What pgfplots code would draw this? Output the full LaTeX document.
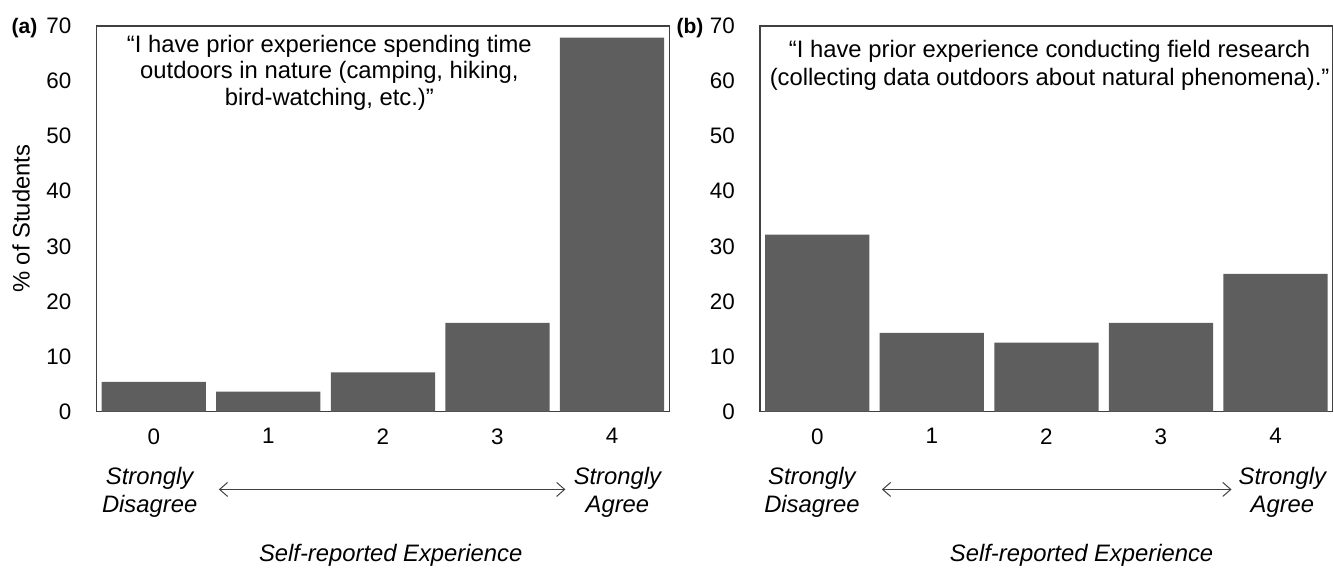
\documentclass[border=0pt]{standalone}
\usepackage{fontspec}
\setmainfont{Liberation Sans}
\usepackage{pgfplots}
\pgfplotsset{compat=1.18}
\usetikzlibrary{arrows.meta}
\definecolor{barc}{HTML}{5E5E5E}
\definecolor{framec}{HTML}{404040}
\pgfplotsset{
 panel/.style={
  scale only axis, width=286.4pt, height=192.75pt,
  anchor=south west,
  xmin=-0.5, xmax=4.5, ymin=0, ymax=70,
  xtick={0,1,2,3,4}, ytick={0,10,...,70},
  major tick length=0pt, tick style={draw=none},
  tick label style={font=\fontsize{11.2}{13}\selectfont, inner sep=0pt},
  xticklabel style={yshift=-8.25pt},
  yticklabel style={xshift=-12.4pt},
  /pgf/number format/assume math mode=true,
  axis line style={draw=framec, line width=0.6pt},
  clip=false,
  ybar, bar width=0.91, bar shift=0pt,
 }
}
\begin{document}
\begin{tikzpicture}
\useasboundingbox (0,0) rectangle (667pt,284pt);
% ---------------- panel (a)
\begin{axis}[panel, at={(48.25pt,78.25pt)}]
\addplot[fill=barc, draw=none] coordinates {(0,5.4) (1,3.6) (2,7.1) (3,16.1) (4,67.9)};
\node[align=center, font=\fontsize{11.9}{13.2}\selectfont] at (axis cs:1.533,61.5)
 {“I have prior experience spending time\\outdoors in nature (camping, hiking,\\bird-watching, etc.)”};
\node[align=center, font=\itshape\fontsize{11.9}{14}\selectfont] at (axis cs:-0.036,-14.6) {Strongly\\Disagree};
\node[align=center, font=\itshape\fontsize{11.9}{14}\selectfont] at (axis cs:4.047,-14.6) {Strongly\\Agree};
\draw[framec, line width=0.5pt, {Straight Barb[length=4pt,width=7pt]}-{Straight Barb[length=4pt,width=7pt]}] (axis cs:0.568,-14.15) -- (axis cs:3.593,-14.15);
\node[font=\itshape\fontsize{11.9}{14}\selectfont] at (axis cs:2.068,-26.1) {Self-reported Experience};
\node[rotate=90, font=\fontsize{11.9}{14}\selectfont] at ([xshift=-37.75pt]rel axis cs:0,0.5) {\% of Students};
\node[font=\bfseries\fontsize{10.5}{12}\selectfont] at ([xshift=-36pt,yshift=-1pt]rel axis cs:0,1) {(a)};
\end{axis}
% ---------------- panel (b)
\begin{axis}[panel, at={(380pt,78.25pt)}]
\addplot[fill=barc, draw=none] coordinates {(0,32.1) (1,14.3) (2,12.5) (3,16.1) (4,25.0)};
\node[align=center, font=\fontsize{11.9}{14}\selectfont] at (axis cs:2.028,62.85)
 {“I have prior experience conducting field research\\(collecting data outdoors about natural phenomena).”};
\node[align=center, font=\itshape\fontsize{11.9}{14}\selectfont] at (axis cs:-0.047,-14.6) {Strongly\\Disagree};
\node[align=center, font=\itshape\fontsize{11.9}{14}\selectfont] at (axis cs:4.06,-14.6) {Strongly\\Agree};
\draw[framec, line width=0.5pt, {Straight Barb[length=4pt,width=7pt]}-{Straight Barb[length=4pt,width=7pt]}] (axis cs:0.564,-14.15) -- (axis cs:3.616,-14.15);
\node[font=\itshape\fontsize{11.9}{14}\selectfont] at (axis cs:2.307,-26.1) {Self-reported Experience};
\node[font=\bfseries\fontsize{10.5}{12}\selectfont] at ([xshift=-35pt,yshift=-1pt]rel axis cs:0,1) {(b)};
\end{axis}
\end{tikzpicture}
\end{document}
